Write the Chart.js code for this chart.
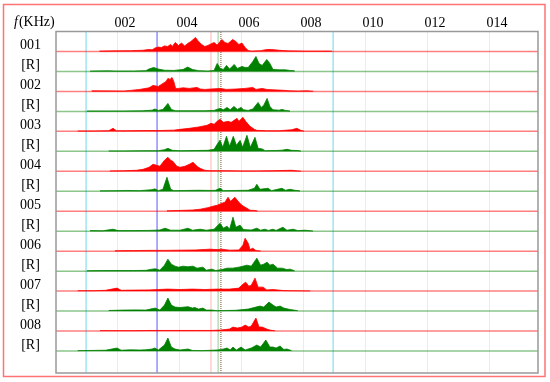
<!DOCTYPE html>
<html>
<head>
<meta charset="utf-8">
<script src="https://cdn.jsdelivr.net/npm/chart.js@4"></script>
<style>
  html, body { margin: 0; padding: 0; background: #fff; }
  #wrap { width: 550px; height: 382px; }
</style>
</head>
<body>
<div id="wrap"><canvas id="specChart"></canvas></div>
<script>
// row labels, top to bottom (sample, then its reference)
const rowLabels = ['001', '[R]', '002', '[R]', '003', '[R]', '004', '[R]',
                   '005', '[R]', '006', '[R]', '007', '[R]', '008', '[R]'];
const tickKHz = [2, 4, 6, 8, 10, 12, 14];
const tickLabels = ['002', '004', '006', '008', '010', '012', '014'];
const markerKHz = [0.97, 3.26, 5.0, 5.23, 5.32, 8.94];
const xMax = 15.55;

// spectra: [kHz, relative amplitude] (1 = one row height)
const s001 = [[1.4,0.02],[1.9,0.03],[2.4,0.04],[2.8,0.06],[3.0,0.1],[3.1,0.08],[3.2,0.18],[3.3,0.22],[3.4,0.2],[3.5,0.28],[3.6,0.25],[3.7,0.35],[3.75,0.25],[3.85,0.45],[3.95,0.3],[4.05,0.42],[4.15,0.28],[4.25,0.4],[4.35,0.5],[4.5,0.7],[4.6,0.5],[4.7,0.35],[4.8,0.25],[4.9,0.3],[5.0,0.38],[5.1,0.45],[5.2,0.32],[5.35,0.6],[5.45,0.45],[5.55,0.4],[5.7,0.6],[5.8,0.5],[5.9,0.35],[6.0,0.42],[6.1,0.2],[6.2,0.05],[6.3,0.02],[6.6,0.04],[6.8,0.1],[6.95,0.1],[7.2,0.06],[7.5,0.03],[8.0,0.02],[8.9,0.02]];
const r001 = [[1.1,0.02],[1.7,0.03],[1.9,0.02],[2.5,0.02],[2.9,0.04],[3.0,0.12],[3.15,0.2],[3.3,0.12],[3.5,0.06],[3.8,0.05],[4.1,0.1],[4.25,0.22],[4.4,0.1],[4.6,0.04],[4.9,0.02],[5.1,0.05],[5.2,0.4],[5.3,0.15],[5.4,0.1],[5.5,0.3],[5.6,0.12],[5.75,0.35],[5.85,0.15],[6.0,0.25],[6.1,0.2],[6.2,0.2],[6.35,0.5],[6.45,0.75],[6.55,0.4],[6.65,0.3],[6.8,0.6],[6.9,0.4],[7.0,0.1],[7.2,0.08],[7.4,0.08],[7.55,0.05],[7.7,0.03]];
const s002 = [[1.15,0.03],[2.2,0.02],[2.4,0.05],[2.7,0.1],[3.0,0.18],[3.13,0.3],[3.3,0.25],[3.45,0.4],[3.55,0.5],[3.61,0.65],[3.68,0.6],[3.74,0.7],[3.8,0.5],[3.86,0.15],[3.95,0.15],[4.1,0.18],[4.3,0.15],[4.55,0.2],[4.65,0.12],[4.8,0.1],[5.0,0.12],[5.3,0.15],[5.5,0.1],[5.8,0.12],[6.1,0.15],[6.35,0.2],[6.45,0.1],[6.65,0.15],[6.8,0.1],[7.0,0.08],[7.3,0.06],[7.55,0.03],[7.8,0.02],[8.1,0.03],[8.3,0.01]];
const r002 = [[1.0,0.02],[1.6,0.02],[2.2,0.02],[2.8,0.03],[3.1,0.06],[3.19,0.12],[3.3,0.05],[3.45,0.1],[3.61,0.4],[3.72,0.1],[3.85,0.03],[4.3,0.03],[4.8,0.03],[5.1,0.05],[5.29,0.15],[5.4,0.08],[5.52,0.2],[5.62,0.08],[5.74,0.25],[5.85,0.1],[5.97,0.2],[6.05,0.08],[6.2,0.05],[6.35,0.12],[6.52,0.45],[6.62,0.2],[6.7,0.3],[6.81,0.65],[6.9,0.25],[7.0,0.08],[7.2,0.06],[7.29,0.1],[7.4,0.05],[7.55,0.02]];
const s003 = [[0.7,0.02],[1.2,0.02],[1.7,0.03],[1.84,0.15],[1.95,0.03],[2.3,0.03],[2.8,0.04],[3.3,0.04],[3.8,0.06],[4.0,0.1],[4.3,0.15],[4.6,0.22],[4.87,0.3],[5.0,0.4],[5.1,0.35],[5.2,0.5],[5.29,0.6],[5.4,0.45],[5.55,0.5],[5.65,0.45],[5.84,0.65],[5.9,0.5],[6.03,0.7],[6.12,0.5],[6.26,0.25],[6.4,0.1],[6.48,0.05],[6.8,0.03],[7.2,0.03],[7.6,0.08],[7.77,0.15],[7.9,0.05],[8.0,0.01]];
const r003 = [[1.7,0.02],[2.2,0.02],[2.8,0.03],[3.3,0.03],[3.5,0.08],[3.61,0.15],[3.75,0.05],[4.0,0.03],[4.5,0.04],[4.9,0.05],[5.1,0.1],[5.2,0.35],[5.29,0.55],[5.38,0.2],[5.5,0.75],[5.6,0.25],[5.72,0.75],[5.82,0.3],[5.94,0.55],[6.02,0.2],[6.16,0.8],[6.27,0.2],[6.42,0.7],[6.52,0.15],[6.65,0.12],[6.75,0.03],[7.1,0.04],[7.3,0.06],[7.45,0.1],[7.6,0.05],[7.8,0.04],[7.9,0.01]];
const s004 = [[1.74,0.02],[2.2,0.03],[2.6,0.05],[2.81,0.1],[3.0,0.2],[3.13,0.35],[3.25,0.3],[3.35,0.25],[3.5,0.55],[3.61,0.7],[3.7,0.55],[3.77,0.5],[3.9,0.25],[4.0,0.2],[4.16,0.25],[4.3,0.35],[4.42,0.45],[4.55,0.25],[4.65,0.15],[4.8,0.05],[4.97,0.03],[5.5,0.03],[6.0,0.02],[6.5,0.02],[7.0,0.03],[7.6,0.05],[7.8,0.02],[7.9,0.01]];
const r004 = [[1.42,0.02],[2.0,0.03],[2.3,0.04],[2.7,0.03],[3.1,0.08],[3.19,0.12],[3.3,0.03],[3.45,0.1],[3.58,0.7],[3.7,0.1],[3.8,0.03],[4.2,0.04],[4.6,0.05],[5.0,0.04],[5.15,0.05],[5.29,0.15],[5.4,0.03],[5.8,0.04],[6.2,0.05],[6.4,0.15],[6.48,0.35],[6.58,0.1],[6.84,0.15],[6.95,0.03],[7.29,0.15],[7.4,0.05],[7.55,0.1],[7.7,0.05],[7.87,0.02]];
const s005 = [[3.58,0.02],[4.0,0.04],[4.4,0.06],[4.65,0.1],[4.9,0.18],[5.06,0.25],[5.2,0.3],[5.35,0.4],[5.45,0.45],[5.55,0.7],[5.63,0.5],[5.77,0.7],[5.9,0.45],[6.0,0.3],[6.1,0.2],[6.16,0.15],[6.26,0.05],[6.42,0.04],[6.5,0.01]];
const r005 = [[1.1,0.03],[1.5,0.02],[1.84,0.1],[2.0,0.03],[2.5,0.03],[3.0,0.04],[3.35,0.06],[3.52,0.15],[3.7,0.05],[4.0,0.05],[4.26,0.15],[4.4,0.05],[4.65,0.1],[4.85,0.05],[5.1,0.1],[5.29,0.4],[5.4,0.15],[5.52,0.25],[5.6,0.1],[5.71,0.7],[5.8,0.2],[5.94,0.3],[6.05,0.08],[6.3,0.06],[6.48,0.15],[6.6,0.05],[6.74,0.1],[6.85,0.04],[7.0,0.1],[7.1,0.04],[7.32,0.2],[7.45,0.05],[7.65,0.1],[7.8,0.03],[8.03,0.05],[8.29,0.01]];
const s006 = [[1.9,0.02],[2.5,0.03],[3.0,0.04],[3.5,0.04],[4.0,0.05],[4.5,0.06],[4.97,0.1],[5.2,0.08],[5.35,0.1],[5.6,0.05],[5.9,0.06],[6.03,0.3],[6.1,0.65],[6.2,0.4],[6.26,0.08],[6.35,0.15],[6.45,0.03],[6.6,0.01]];
const r006 = [[1.0,0.02],[1.5,0.03],[2.0,0.03],[2.5,0.03],[2.9,0.04],[3.1,0.1],[3.2,0.12],[3.35,0.05],[3.5,0.3],[3.61,0.6],[3.72,0.35],[3.84,0.25],[3.95,0.2],[4.1,0.25],[4.25,0.22],[4.42,0.25],[4.55,0.15],[4.74,0.2],[4.85,0.05],[5.03,0.1],[5.15,0.03],[5.35,0.08],[5.52,0.15],[5.7,0.15],[5.9,0.2],[6.16,0.3],[6.3,0.25],[6.48,0.65],[6.6,0.3],[6.7,0.35],[6.81,0.45],[6.9,0.3],[7.0,0.35],[7.15,0.15],[7.29,0.15],[7.45,0.08],[7.55,0.1],[7.7,0.02]];
const s007 = [[0.7,0.02],[1.2,0.02],[1.6,0.04],[1.97,0.15],[2.1,0.04],[2.5,0.05],[3.0,0.06],[3.3,0.08],[3.6,0.1],[4.0,0.08],[4.4,0.1],[4.8,0.08],[5.2,0.1],[5.6,0.1],[5.9,0.15],[6.03,0.35],[6.12,0.45],[6.22,0.25],[6.3,0.3],[6.42,0.65],[6.52,0.2],[6.68,0.2],[6.8,0.06],[7.0,0.08],[7.32,0.03],[7.6,0.02],[8.2,0.01]];
const r007 = [[1.7,0.03],[2.2,0.05],[2.6,0.06],[2.9,0.05],[3.1,0.12],[3.2,0.15],[3.35,0.05],[3.5,0.3],[3.61,0.65],[3.72,0.3],[3.84,0.2],[4.0,0.18],[4.26,0.22],[4.4,0.15],[4.48,0.18],[4.6,0.1],[4.74,0.15],[4.85,0.05],[5.03,0.05],[5.2,0.02],[5.5,0.03],[5.8,0.04],[6.2,0.1],[6.45,0.2],[6.58,0.25],[6.7,0.2],[6.87,0.45],[7.0,0.3],[7.1,0.2],[7.23,0.25],[7.35,0.15],[7.55,0.08],[7.8,0.02]];
const s008 = [[1.42,0.02],[2.0,0.02],[2.5,0.02],[3.0,0.03],[3.5,0.03],[4.0,0.03],[4.5,0.03],[5.0,0.03],[5.3,0.05],[5.6,0.1],[5.71,0.2],[5.85,0.15],[6.0,0.2],[6.1,0.3],[6.22,0.2],[6.3,0.25],[6.45,0.65],[6.55,0.2],[6.65,0.2],[6.8,0.1],[6.9,0.05],[7.06,0.01]];
const r008 = [[0.7,0.02],[1.2,0.03],[1.6,0.04],[1.97,0.15],[2.1,0.04],[2.4,0.06],[2.7,0.05],[2.9,0.06],[3.1,0.1],[3.19,0.15],[3.3,0.05],[3.5,0.3],[3.61,0.65],[3.72,0.2],[3.84,0.1],[4.0,0.05],[4.26,0.1],[4.4,0.03],[4.7,0.02],[5.2,0.05],[5.35,0.08],[5.52,0.15],[5.62,0.05],[5.71,0.2],[5.82,0.05],[5.97,0.2],[6.1,0.05],[6.2,0.1],[6.3,0.15],[6.48,0.3],[6.6,0.2],[6.77,0.55],[6.9,0.2],[7.0,0.2],[7.1,0.15],[7.23,0.25],[7.35,0.08],[7.45,0.1],[7.6,0.02]];

const rows = [s001, r001, s002, r002, s003, r003, s004, r004,
              s005, r005, s006, r006, s007, r007, s008, r008];

const yMin = -1.1, yMax = 16;
const rowBase = i => rows.length - 1 - i;
const serif = '"Liberation Serif", "Times New Roman", serif';

const datasets = [];
rows.forEach((pts, i) => {
  const base = rowBase(i);
  const isRef = i % 2 === 1;
  // spectrum
  datasets.push({
    data: pts.map(p => ({ x: p[0], y: base + p[1] })),
    borderColor: isRef ? '#008000' : '#ff0000',
    backgroundColor: isRef ? '#008000' : '#ff0000',
    borderWidth: 0.8,
    fill: { value: base },
    pointRadius: 0,
    tension: 0,
    order: 1
  });
  // baseline
  datasets.push({
    data: [{ x: 0, y: base }, { x: xMax, y: base }],
    borderColor: isRef ? 'rgba(0,128,0,0.45)' : 'rgba(255,0,0,0.5)',
    borderWidth: 1.5,
    fill: false,
    pointRadius: 0,
    order: 2
  });
});

// vertical marker lines
const markerStyles = [
  { color: 'rgba(120,220,235,0.9)', dash: [] },
  { color: 'rgba(90,90,255,0.85)', dash: [] },
  { color: 'rgba(255,0,0,0.25)', dash: [] },
  { color: 'rgba(0,128,0,0.35)', dash: [] },
  { color: 'rgba(120,70,40,0.8)', dash: [1, 1] },
  { color: 'rgba(120,220,235,0.9)', dash: [] }
];
markerKHz.forEach((f, i) => {
  datasets.push({
    data: [{ x: f, y: yMin }, { x: f, y: yMax }],
    borderColor: markerStyles[i].color,
    borderDash: markerStyles[i].dash,
    borderWidth: 1.2,
    fill: false,
    pointRadius: 0,
    order: 3
  });
});

const framePlugin = {
  id: 'frame',
  afterDraw(chart) {
    const { ctx, chartArea: a } = chart;
    ctx.save();
    ctx.strokeStyle = '#999';
    ctx.lineWidth = 1.5;
    ctx.strokeRect(a.left, a.top, a.right - a.left, a.bottom - a.top);
    ctx.strokeStyle = 'rgba(255,0,0,0.55)';
    ctx.lineWidth = 1.5;
    ctx.strokeRect(3.5, 4.5, 541.5, 372);
    // axis unit
    ctx.fillStyle = '#000';
    ctx.textBaseline = 'middle';
    ctx.font = 'italic 14px ' + serif;
    ctx.fillText('f', 14, 22);
    const w = ctx.measureText('f').width;
    ctx.font = '14px ' + serif;
    ctx.fillText('(KHz)', 14 + w + 1, 22);
    ctx.restore();
  }
};

new Chart(document.getElementById('specChart'), {
  type: 'line',
  data: { datasets },
  options: {
    responsive: true,
    maintainAspectRatio: false,
    animation: false,
    layout: { padding: { left: 4, right: 12, top: 0, bottom: 9 } },
    plugins: { legend: { display: false }, tooltip: { enabled: false } },
    scales: {
      x: {
        type: 'linear',
        position: 'top',
        min: 0,
        max: xMax,
        afterBuildTicks: s => { s.ticks = tickKHz.map(v => ({ value: v })); },
        afterFit: s => { s.height = 31.5; s.paddingLeft = 0; s.paddingRight = 0; },
        ticks: {
          callback: (v, idx) => tickLabels[idx],
          font: { family: serif, size: 14 },
          color: '#000',
          padding: 0,
          labelOffset: 7,
          maxRotation: 0
        },
        grid: { color: '#ebebeb', drawTicks: false },
        border: { display: false }
      },
      y: {
        type: 'linear',
        min: yMin,
        max: yMax,
        afterBuildTicks: s => { s.ticks = rows.map((_, i) => ({ value: rowBase(i) + 0.3 })); },
        afterFit: s => { s.width = 52; s.paddingTop = 0; s.paddingBottom = 0; },
        ticks: {
          callback: (v, idx) => rowLabels[idx],
          font: { family: serif, size: 14 },
          color: '#000',
          crossAlign: 'center',
          padding: 15
        },
        grid: { display: false, drawTicks: false },
        border: { display: false }
      }
    }
  },
  plugins: [framePlugin]
});
</script>
</body>
</html>
